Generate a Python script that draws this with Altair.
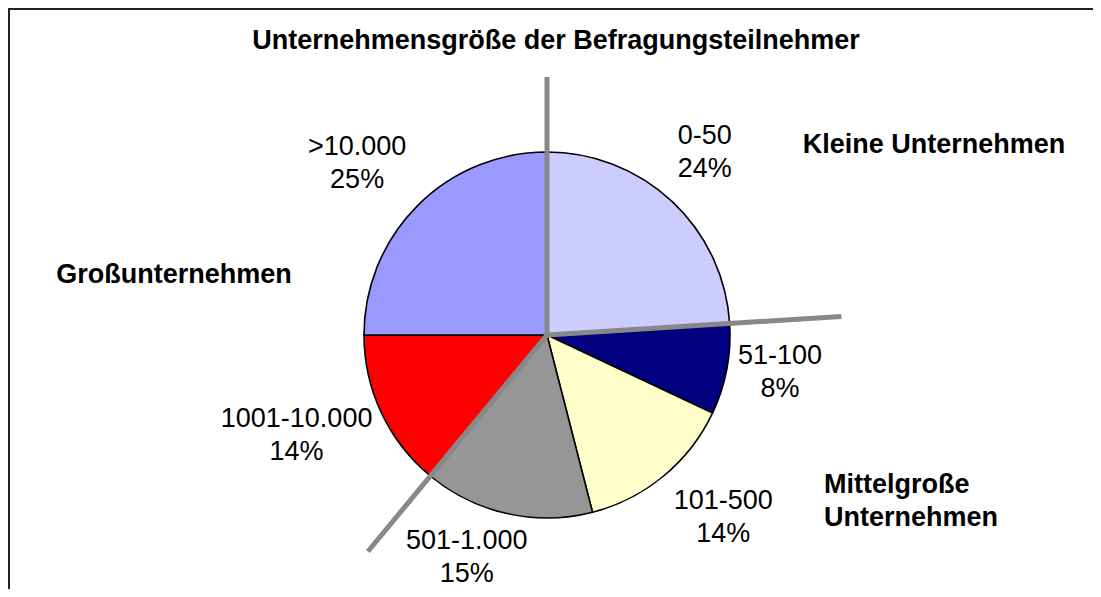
import math
import altair as alt
import pandas as pd

# ---------------- data ----------------
title_text = "Unternehmensgröße der Befragungsteilnehmer"
categories = ["0-50", "51-100", "101-500", "501-1.000", "1001-10.000", ">10.000"]
shares = [24, 8, 14, 15, 14, 25]
slice_colors = ["#CCCCFF", "#000080", "#FFFFCC", "#969696", "#FF0000", "#9999FF"]
group_of = ["Kleine", "Mittel", "Mittel", "Mittel", "Groß", "Groß"]
group_names = ["Kleine", "Mittel", "Groß"]
group_labels = ["Kleine Unternehmen", "Mittelgroße\nUnternehmen", "Großunternehmen"]

# ---------------- layout (chart pixels, page offset 8px) ----------------
W, H = 1085, 581
CX, CY = 539, 327          # pie centre
R = 183                    # pie radius
# per-label placement: (radius in px, angular nudge in % of the circle)
LABEL_PLACE = {
    "0-50": (241, -0.64),
    "51-100": (236, -0.43),
    "101-500": (254, -1.2),
    "501-1.000": (237, 2.0),
    "1001-10.000": (270, 0.9),
    ">10.000": (256, -0.8),
}
SEP_LEN = {"Kleine": 258, "Mittel": 295, "Groß": 281}
GROUP_POS = {
    "Kleine": dict(x=926, y=145, align="center"),
    "Mittel": dict(x=816, y=485, align="left"),
    "Groß": dict(x=166, y=275, align="center"),
}
FONT = "Liberation Sans"
FS = 27
LH = 33

# ---------------- tables ----------------
total = sum(shares)
cum_before = [sum(shares[:i]) for i in range(len(shares))]
pie_df = pd.DataFrame({
    "cat": categories,
    "share": shares,
    "order": list(range(len(categories))),
})
lab_df = pd.DataFrame({
    "cat": categories,
    "label": [f"{c}\n{s}%" for c, s in zip(categories, shares)],
    "mid": [cb + s / 2 + LABEL_PLACE[c][1] for c, s, cb in zip(categories, shares, cum_before)],
    "lr": [LABEL_PLACE[c][0] for c in categories],
})

sep_rows = []
for g in group_names:
    first = group_of.index(g)
    a = 2 * math.pi * cum_before[first] / total
    L = SEP_LEN[g]
    sep_rows.append({"x": CX + L * math.sin(a), "y": CY - L * math.cos(a), "x2": CX, "y2": CY})
sep_df = pd.DataFrame(sep_rows)

theta_scale = alt.Scale(domain=[0, total])

pie = alt.Chart(pie_df).mark_arc(outerRadius=R, stroke="black", strokeWidth=1.6).encode(
    theta=alt.Theta("share:Q", stack=True, scale=theta_scale),
    order=alt.Order("order:Q", sort="ascending"),
    color=alt.Color("cat:N", scale=alt.Scale(domain=categories, range=slice_colors), legend=None),
    x=alt.value(CX),
    y=alt.value(CY),
)

labels = alt.Chart(lab_df).mark_text(
    font=FONT, fontSize=FS, lineBreak="\n", lineHeight=LH, dy=-LH / 2,
    color="black", align="center", baseline="middle",
).encode(
    theta=alt.Theta("mid:Q", stack=False, scale=theta_scale),
    radius=alt.Radius("lr:Q", scale=None),
    text="label:N",
    x=alt.value(CX),
    y=alt.value(CY),
)

seps = alt.Chart(sep_df).mark_rule(color="#888888", strokeWidth=5).encode(
    x=alt.X("x:Q", scale=None), y=alt.Y("y:Q", scale=None),
    x2="x2:Q", y2="y2:Q",
)

layers = [pie, seps, labels]

for g, lab in zip(group_names, group_labels):
    p = GROUP_POS[g]
    layers.append(
        alt.Chart(pd.DataFrame({"t": [lab]})).mark_text(
            font=FONT, fontSize=FS, fontWeight="bold", align=p["align"],
            baseline="alphabetic", lineBreak="\n", lineHeight=LH, color="black",
        ).encode(text="t:N", x=alt.value(p["x"]), y=alt.value(p["y"]))
    )

title = alt.Chart(pd.DataFrame({"t": [title_text]})).mark_text(
    font=FONT, fontSize=FS, fontWeight="bold", align="center", baseline="alphabetic", color="black",
).encode(text="t:N", x=alt.value(548), y=alt.value(41))
layers.append(title)

frame_top = alt.Chart(pd.DataFrame({"a": [0]})).mark_rule(color="#222222", strokeWidth=2).encode(
    x=alt.value(0), x2=alt.value(W), y=alt.value(1))
frame_left = alt.Chart(pd.DataFrame({"a": [0]})).mark_rule(color="#222222", strokeWidth=2).encode(
    x=alt.value(1), y=alt.value(0), y2=alt.value(H))
layers += [frame_top, frame_left]

chart = alt.layer(*layers).properties(
    width=W, height=H, autosize=alt.AutoSizeParams(type="none"), padding=0,
).configure_view(stroke=None).configure(background="white")

chart.save("out.html", embed_options={"renderer": "svg", "actions": False})
